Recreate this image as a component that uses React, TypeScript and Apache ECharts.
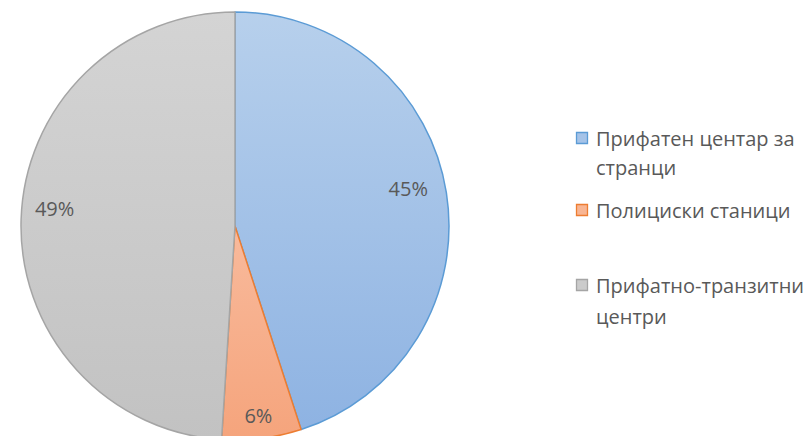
import React, { useEffect, useRef } from "react";
import * as echarts from "echarts";

const categories = ["Прифатен центар за странци", "Полициски станици", "Прифатно-транзитни центри"];
const legendLines = [["Прифатен центар за", "странци"], ["Полициски станици"], ["Прифатно-транзитни", "центри"]];
const values = [45, 6, 49];
const strokeColors = ["#5B9BD5", "#ED7D31", "#A5A5A5"];
const gradTop = ["#B7D0EC", "#FCD0BC", "#D4D4D4"];
const gradBottom = ["#8DB2E2", "#F5A47C", "#C2C2C2"];
const iconFills = ["#A5C3E8", "#F8B593", "#CBCBCB"];

const FONT = "'Open Sans', 'Noto Sans', sans-serif";
const labelOffsets = [[-3, -10], [1, 12], [-2, -12]];
const legendY = [[138, 167], [210], [285, 316]];

export default function App() {
  const ref = useRef<HTMLDivElement>(null);
  useEffect(() => {
    const chart = echarts.init(ref.current!, null, { renderer: "svg" });
    const cx = 235, cy = 226, R = 214;
    const fills = values.map((_, i) => ({
      type: "linear", x: 0, y: cy - R, x2: 0, y2: cy + R, global: true,
      colorStops: [{ offset: 0, color: gradTop[i] }, { offset: 1, color: gradBottom[i] }],
    }));
    const data = categories.map((name, i) => ({
      name, value: values[i],
      itemStyle: { color: fills[i], borderColor: strokeColors[i], borderWidth: 1.5 },
    }));
    const labelData = categories.map((name, i) => ({ name, value: values[i] }));

    const graphics: any[] = [];
    legendLines.forEach((lines, i) => {
      graphics.push({
        type: "rect", shape: { x: 576.5, y: legendY[i][0] - 5.5, width: 11, height: 11 },
        style: { fill: iconFills[i], stroke: strokeColors[i], lineWidth: 1.3 },
      });
      lines.forEach((t, j) => {
        graphics.push({
          type: "text", x: 596, y: legendY[i][j],
          style: { text: t, fill: "#595959", font: `20px ${FONT}`, textVerticalAlign: "middle", textAlign: "left" },
        });
      });
    });

    chart.setOption({
      animation: false,
      backgroundColor: "#FFFFFF",
      graphic: graphics,
      series: [
        {
          type: "pie", center: [cx, cy], radius: [0, R], startAngle: 90, clockwise: true,
          label: { show: false }, labelLine: { show: false }, silent: true,
          data,
        },
        {
          type: "pie", center: [cx, cy], radius: [R * 0.64, R], startAngle: 90, clockwise: true,
          itemStyle: { color: "transparent", borderWidth: 0 }, silent: true,
          label: {
            show: true, position: "inside", formatter: "{d}%", color: "#595959",
            fontSize: 20, fontFamily: FONT,
          },
          labelLayout: (p: any) => ({ dx: labelOffsets[p.dataIndex][0], dy: labelOffsets[p.dataIndex][1] }),
          labelLine: { show: false },
          data: labelData,
        },
      ],
    });
    return () => chart.dispose();
  }, []);
  return <div ref={ref} style={{ position: "fixed", left: 0, top: 0, width: 809, height: 436 }} />;
}
